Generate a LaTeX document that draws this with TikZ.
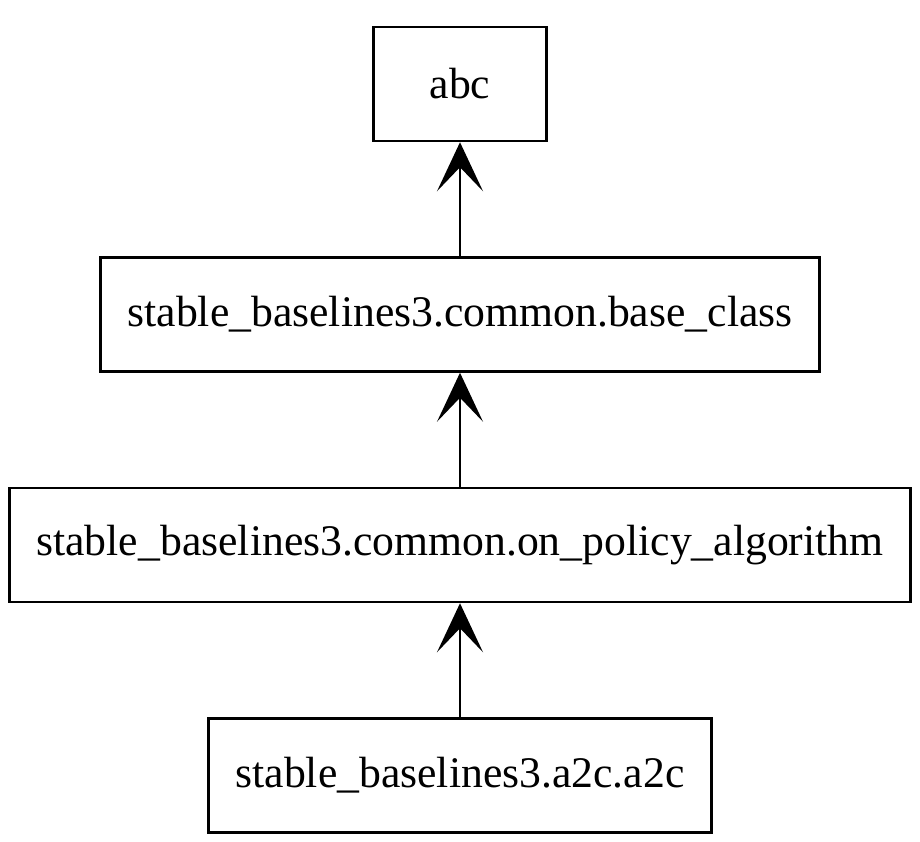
\documentclass[tikz,border=0pt]{standalone}
\usepackage{fontspec}
\setmainfont{Liberation Serif}
\usetikzlibrary{arrows.meta,positioning}
\begin{document}
\begin{tikzpicture}[
  x=1pt, y=1pt,
  font=\fontsize{43.7}{52}\selectfont,
  mod/.style={draw, line width=2.5pt, minimum height=114pt, inner xsep=27pt, align=center},
  >={Stealth[length=49pt, width=46pt, inset=24pt]},
  every edge/.style={draw, ->, line width=2pt},
  node distance=114pt,
]
\useasboundingbox (0,0) rectangle (920,842);
\node[mod, minimum width=173pt] (abc) at (460,758) {abc};
\node[mod, below=of abc] (base) {stable\_baselines3.common.base\_class};
\node[mod, below=of base] (onpolicy) {stable\_baselines3.common.on\_policy\_algorithm};
\node[mod, below=of onpolicy] (atc) {stable\_baselines3.a2c.a2c};

\foreach \a/\b in {base/abc,onpolicy/base,atc/onpolicy} { \draw (\a) edge (\b); }
\end{tikzpicture}
\end{document}
